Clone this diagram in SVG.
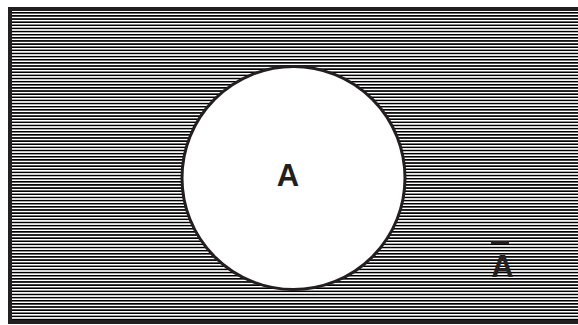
<svg xmlns="http://www.w3.org/2000/svg" width="578" height="325" viewBox="0 0 578 325">
  <style>
    .lbl { font-family: "Liberation Sans", Arial, sans-serif; font-weight: bold; font-size: 31px; fill: #231f20; text-anchor: middle; }
  </style>
  <defs>
    <pattern id="hatch" patternUnits="userSpaceOnUse" x="0" y="12" width="20" height="3.13">
      <rect x="0" y="0" width="20" height="1.7" fill="#000" shape-rendering="crispEdges"/>
    </pattern>
  </defs>
  <rect width="578" height="325" fill="#fff"/>
  <g id="universe">
    <rect x="10" y="9" width="580" height="313" fill="url(#hatch)" stroke="#231f20" stroke-width="4"/>
    <line x1="8" y1="9.5" x2="578" y2="9.5" stroke="#231f20" stroke-width="3"/>
  </g>
  <g id="setA">
    <circle cx="293.5" cy="178" r="111.5" fill="#fff" stroke="#231f20" stroke-width="3"/>
    <text class="lbl" x="288" y="186">A</text>
  </g>
  <g id="complement">
    <line x1="491" y1="242.5" x2="509" y2="242.5" stroke="#231f20" stroke-width="3"/>
    <text class="lbl" x="502.5" y="277">A</text>
  </g>
</svg>
